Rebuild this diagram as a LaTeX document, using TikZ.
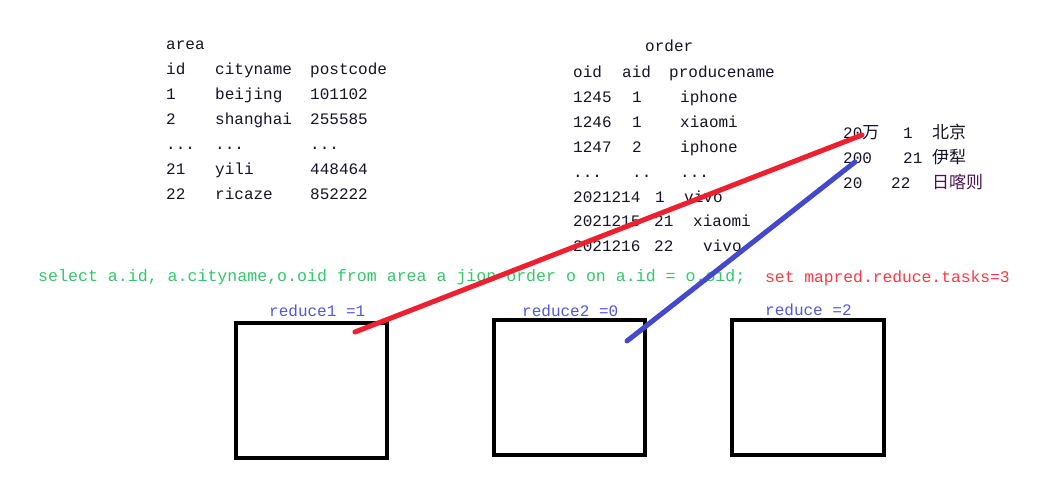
\documentclass[tikz,border=0pt]{standalone}
\usepackage{fontspec}
\setmonofont{Liberation Mono}
\newfontfamily\cjk{Noto Sans CJK SC}
\definecolor{sqlgreen}{HTML}{33C86A}
\definecolor{setred}{HTML}{FF3848}
\definecolor{redblue}{HTML}{5058DD}
\definecolor{linered}{HTML}{EE2030}
\definecolor{lineblue}{HTML}{4448CC}
\definecolor{txt}{HTML}{141428}
\definecolor{cjkpurple}{HTML}{4A1050}
\begin{document}
\begin{tikzpicture}[x=1pt,y=-1pt,
  tt/.style={anchor=base west,inner sep=0pt,font=\ttfamily\fontsize{16}{18}\selectfont,text=txt},
  cj/.style={anchor=base west,inner sep=0pt,font=\cjk\fontsize{17}{19}\selectfont,text=txt},
  boxr/.style={draw=black,line width=4pt,minimum width=151pt,minimum height=135pt,inner sep=0pt},
  lbl/.style={anchor=base west,inner sep=0pt,font=\ttfamily\fontsize{16}{18}\selectfont,text=redblue},
  link/.style={line width=5pt,line cap=round}]
\useasboundingbox[fill=white] (0,0) rectangle (1049,479);
% area table
\node[tt] (aT) at (166,49) {area};
\node[tt] (aH1) at (166,74) {id};
\node[tt] (aH2) at (215,74) {cityname};
\node[tt] (aH3) at (310,74) {postcode};
\node[tt] (a11) at (166,99) {1};
\node[tt] (a12) at (215,99) {beijing};
\node[tt] (a13) at (310,99) {101102};
\node[tt] (a21) at (166,124) {2};
\node[tt] (a22) at (215,124) {shanghai};
\node[tt] (a23) at (310,124) {255585};
\node[tt] (a31) at (166,149) {...};
\node[tt] (a32) at (215,149) {...};
\node[tt] (a33) at (310,149) {...};
\node[tt] (a41) at (166,174) {21};
\node[tt] (a42) at (215,174) {yili};
\node[tt] (a43) at (310,174) {448464};
\node[tt] (a51) at (166,199) {22};
\node[tt] (a52) at (215,199) {ricaze};
\node[tt] (a53) at (310,199) {852222};
% order table
\node[tt] (oT) at (645,51) {order};
\node[tt] (oH1) at (573,77) {oid};
\node[tt] (oH2) at (622,77) {aid};
\node[tt] (oH3) at (669,77) {producename};
\node[tt] (o11) at (573,102) {1245};
\node[tt] (o12) at (632,102) {1};
\node[tt] (o13) at (680,102) {iphone};
\node[tt] (o21) at (573,127) {1246};
\node[tt] (o22) at (632,127) {1};
\node[tt] (o23) at (680,127) {xiaomi};
\node[tt] (o31) at (573,152) {1247};
\node[tt] (o32) at (632,152) {2};
\node[tt] (o33) at (680,152) {iphone};
\node[tt] (o41) at (573,177) {...};
\node[tt] (o42) at (632,177) {..};
\node[tt] (o43) at (680,177) {...};
\node[tt] (o51) at (573,202) {2021214};
\node[tt] (o52) at (655,202) {1};
\node[tt] (o53) at (684,202) {vivo};
\node[tt] (o61) at (573,226) {2021215};
\node[tt] (o62) at (654,226) {21};
\node[tt] (o63) at (693,226) {xiaomi};
\node[tt] (o71) at (573,251) {2021216};
\node[tt] (o72) at (654,251) {22};
\node[tt] (o73) at (703,251) {vivo};
% side list
\node[tt] (s11) at (843,138) {20{\cjk\fontsize{17}{19}\selectfont 万}};
\node[tt] (s12) at (903,138) {1};
\node[cj] (s13) at (932,138) {北京};
\node[tt] (s21) at (843,163) {200};
\node[tt] (s22) at (903,163) {21};
\node[cj] (s23) at (932,163) {伊犁};
\node[tt] (s31) at (843,188) {20};
\node[tt] (s32) at (891,188) {22};
\node[cj,text=cjkpurple] (s33) at (932,188) {日喀则};
% statements
\node[tt,text=sqlgreen,font=\ttfamily\fontsize{16.6}{18}\selectfont] (sql) at (38,281) {select a.id, a.cityname,o.oid from area a jion order o on a.id = o.oid;};
\node[tt,text=setred,font=\ttfamily\fontsize{16.3}{18}\selectfont] (set) at (765,282) {set mapred.reduce.tasks=3};
% reducers
\node[lbl] (l1) at (269,316) {reduce1 =1};
\node[lbl] (l2) at (522,316) {reduce2 =0};
\node[lbl] (l3) at (765,315) {reduce =2};
\node[boxr] (r1) at (311.5,390) {};
\node[boxr] (r2) at (569.5,387.5) {};
\node[boxr,minimum width=152pt] (r3) at (808,387.5) {};
% links
\coordinate (redA) at (355,332);
\coordinate (redB) at (862,135);
\coordinate (blueA) at (627,341);
\coordinate (blueB) at (855,162);
\draw[link,draw=linered] (redA) -- (redB);
\draw[link,draw=lineblue] (blueA) -- (blueB);
\end{tikzpicture}
\end{document}
